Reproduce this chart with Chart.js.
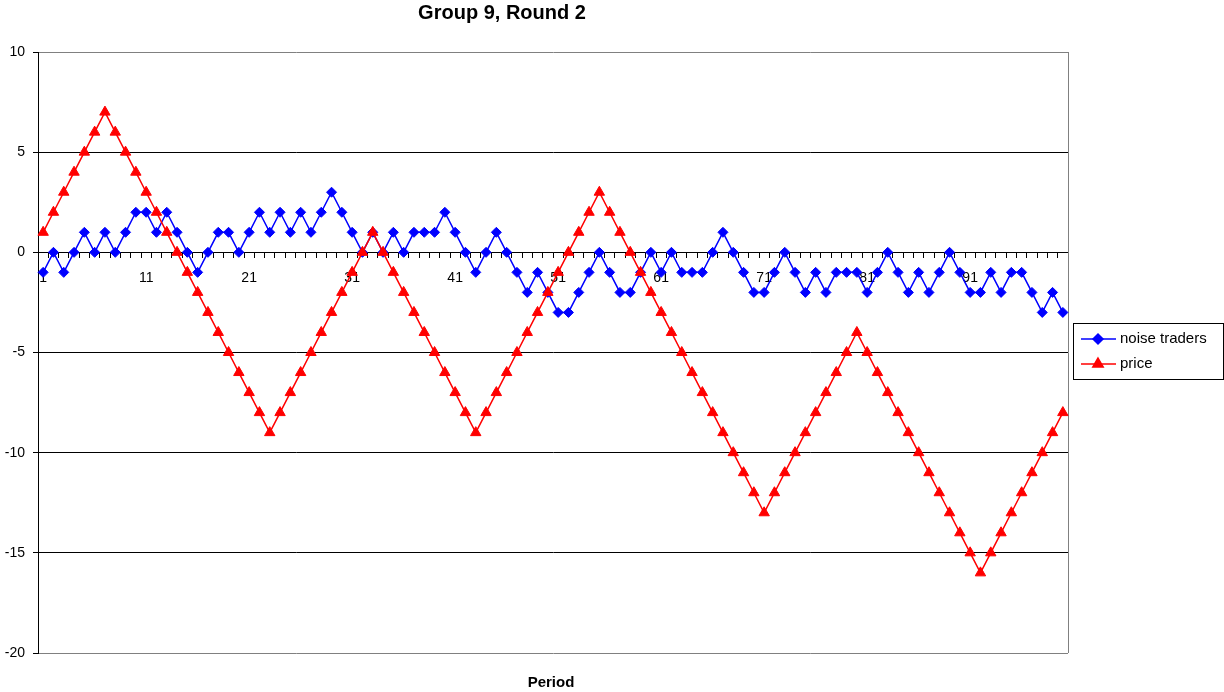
<!DOCTYPE html>
<html>
<head>
<meta charset="utf-8">
<title>Group 9, Round 2</title>
<script src="https://cdn.jsdelivr.net/npm/chart.js@4/dist/chart.umd.min.js"></script>
<style>
  html, body { margin: 0; padding: 0; background: #fff; }
</style>
</head>
<body>
<canvas id="chart" width="1224" height="692"></canvas>
<script>
const periods = [1,2,3,4,5,6,7,8,9,10,11,12,13,14,15,16,17,18,19,20,
  21,22,23,24,25,26,27,28,29,30,31,32,33,34,35,36,37,38,39,40,
  41,42,43,44,45,46,47,48,49,50,51,52,53,54,55,56,57,58,59,60,
  61,62,63,64,65,66,67,68,69,70,71,72,73,74,75,76,77,78,79,80,
  81,82,83,84,85,86,87,88,89,90,91,92,93,94,95,96,97,98,99,100];
const shownPeriods = [1, 11, 21, 31, 41, 51, 61, 71, 81, 91];
const noiseTraders = [-1,0,-1,0,1,0,1,0,1,2,
  2,1,2,1,0,-1,0,1,1,0,
  1,2,1,2,1,2,1,2,3,2,
  1,0,1,0,1,0,1,1,1,2,
  1,0,-1,0,1,0,-1,-2,-1,-2,
  -3,-3,-2,-1,0,-1,-2,-2,-1,0,
  -1,0,-1,-1,-1,0,1,0,-1,-2,
  -2,-1,0,-1,-2,-1,-2,-1,-1,-1,
  -2,-1,0,-1,-2,-1,-2,-1,0,-1,
  -2,-2,-1,-2,-1,-1,-2,-3,-2,-3];
const price = [1,2,3,4,5,6,7,6,5,4,
  3,2,1,0,-1,-2,-3,-4,-5,-6,
  -7,-8,-9,-8,-7,-6,-5,-4,-3,-2,
  -1,0,1,0,-1,-2,-3,-4,-5,-6,
  -7,-8,-9,-8,-7,-6,-5,-4,-3,-2,
  -1,0,1,2,3,2,1,0,-1,-2,
  -3,-4,-5,-6,-7,-8,-9,-10,-11,-12,
  -13,-12,-11,-10,-9,-8,-7,-6,-5,-4,
  -5,-6,-7,-8,-9,-10,-11,-12,-13,-14,
  -15,-16,-15,-14,-13,-12,-11,-10,-9,-8];
const yTicks = [-20, -15, -10, -5, 0, 5, 10];

const fontFam = "'Liberation Sans', Arial, sans-serif";

// title, axis name, right border and legend box
const extras = {
  id: 'extras',
  beforeDatasetsDraw(chart) {
    const ctx = chart.ctx, a = chart.chartArea;
    ctx.save();
    ctx.strokeStyle = '#808080';
    ctx.lineWidth = 1;
    ctx.beginPath();
    ctx.moveTo(Math.round(a.right) + 0.5, a.top);
    ctx.lineTo(Math.round(a.right) + 0.5, a.bottom);
    ctx.stroke();
    ctx.restore();
  },
  afterDraw(chart) {
    const ctx = chart.ctx;
    ctx.save();
    ctx.fillStyle = '#000';
    ctx.textAlign = 'center';
    ctx.textBaseline = 'middle';
    ctx.font = 'bold 20px ' + fontFam;
    ctx.fillText('Group 9, Round 2', 502, 13);
    ctx.font = 'bold 15px ' + fontFam;
    ctx.fillText('Period', 551, 683);

    // legend
    const lx = 1073, ly = 323, lw = 150, lh = 56;
    ctx.fillStyle = '#fff';
    ctx.fillRect(lx, ly, lw, lh);
    ctx.strokeStyle = '#000';
    ctx.lineWidth = 1;
    ctx.strokeRect(lx + 0.5, ly + 0.5, lw, lh);
    chart.data.datasets.forEach((ds, i) => {
      const cy = ly + 16 + i * 25;
      ctx.strokeStyle = ds.borderColor;
      ctx.lineWidth = ds.borderWidth;
      ctx.beginPath();
      ctx.moveTo(lx + 8, cy);
      ctx.lineTo(lx + 43, cy);
      ctx.stroke();
      ctx.fillStyle = ds.pointBackgroundColor;
      ctx.strokeStyle = ds.pointBorderColor;
      Chart.helpers.drawPoint(ctx, {pointStyle: ds.pointStyle, radius: ds.pointRadius, borderWidth: 1, rotation: 0}, lx + 25, cy);
      ctx.fillStyle = '#000';
      ctx.textAlign = 'left';
      ctx.font = '15px ' + fontFam;
      ctx.fillText(ds.label, lx + 47, cy);
    });
    ctx.restore();
  }
};

new Chart(document.getElementById('chart'), {
  type: 'line',
  data: {
    labels: periods,
    datasets: [{
      label: 'noise traders',
      data: noiseTraders,
      borderColor: '#0000ff',
      backgroundColor: '#0000ff',
      pointBackgroundColor: '#0000ff',
      pointBorderColor: '#0000ff',
      pointStyle: 'rectRot',
      pointRadius: 5,
      pointBorderWidth: 1,
      borderWidth: 1.5,
      tension: 0,
      order: 1
    }, {
      label: 'price',
      data: price,
      borderColor: '#ff0000',
      backgroundColor: '#ff0000',
      pointBackgroundColor: '#ff0000',
      pointBorderColor: '#ff0000',
      pointStyle: 'triangle',
      pointRadius: 6,
      pointBorderWidth: 1,
      borderWidth: 1.5,
      tension: 0,
      order: 0
    }]
  },
  options: {
    responsive: false,
    animation: false,
    layout: { padding: { top: 52, right: 156, bottom: 39, left: 0 } },
    plugins: {
      legend: { display: false },
      title: { display: false },
      tooltip: { enabled: false }
    },
    scales: {
      x: {
        type: 'category',
        position: { y: 0 },
        offset: true,
        grid: {
          offset: true,
          drawOnChartArea: false,
          drawTicks: true,
          tickLength: 5,
          tickColor: '#000'
        },
        border: { color: '#000', width: 1 },
        ticks: {
          autoSkip: false,
          maxRotation: 0,
          padding: 12,
          color: '#000',
          font: { family: fontFam, size: 14 },
          callback: function (val, i) {
            const p = periods[i];
            return shownPeriods.includes(p) ? String(p) : '';
          }
        }
      },
      y: {
        min: -20,
        max: 10,
        afterBuildTicks: (scale) => { scale.ticks = yTicks.map(v => ({ value: v })); },
        afterFit: (scale) => { scale.width = 38; },
        grid: {
          color: (c) => (c.tick && (c.tick.value === 10 || c.tick.value === -20)) ? '#808080' : '#000',
          tickColor: '#000',
          tickLength: 5,
          lineWidth: 1
        },
        border: { color: '#000', width: 1 },
        ticks: {
          padding: 8,
          color: '#000',
          font: { family: fontFam, size: 14 }
        }
      }
    }
  },
  plugins: [extras]
});
</script>
</body>
</html>
